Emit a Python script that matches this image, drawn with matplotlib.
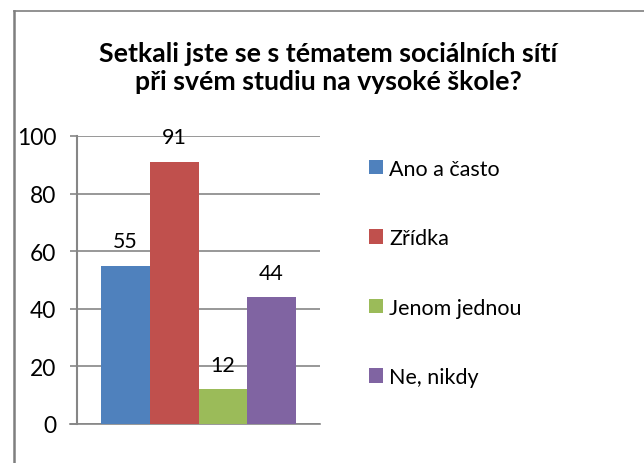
import matplotlib
matplotlib.use('Agg')
import matplotlib.pyplot as plt
from matplotlib.lines import Line2D
from matplotlib.patches import Patch
import numpy as np

plt.rcParams['font.family'] = ['Lato', 'DejaVu Sans']

# ---------------- data ---------------- #
title = 'Setkali jste se s tématem sociálních sítí\npři svém studiu na vysoké škole?'
labels = ['Ano a často', 'Zřídka', 'Jenom jednou', 'Ne, nikdy']
values = [55, 91, 12, 44]
colors = ['#4F81BD', '#C0504D', '#9BBB59', '#8064A2']
yticks = [0, 20, 40, 60, 80, 100]

# ---------------- figure ---------------- #
W, H = 644, 464
fig = plt.figure(figsize=(W / 100, H / 100), dpi=100)
ax = fig.add_axes([77 / W, 1 - 425 / H, 243 / W, 288 / H])

bw = 0.2
offsets = (np.arange(len(values)) - (len(values) - 1) / 2) * bw
bars = ax.bar(offsets, values, width=bw, color=colors, zorder=3)
for b, v in zip(bars, values):
    ax.annotate(str(v), (b.get_x() + b.get_width() / 2, v),
                xytext=(0, 10.5), textcoords='offset points',
                ha='center', va='bottom', fontsize=15.4, color='black')

ax.set_xlim(-0.5, 0.5)
ax.set_ylim(0, 100)
ax.set_yticks(yticks)
ax.set_xticks([])
ax.grid(axis='y', color='#868686', linewidth=1.2, zorder=0)
ax.tick_params(axis='y', length=5, width=1.2, color='#868686', pad=10, labelsize=16.4)
for s in ['top', 'right']:
    ax.spines[s].set_visible(False)
ax.spines['left'].set_color('#868686')
ax.spines['left'].set_linewidth(1.5)
ax.spines['bottom'].set_color('#868686')
ax.spines['bottom'].set_linewidth(1.2)

# extend baseline to the left like the tick marks
ax.plot([-0.5 - 7 / 243, -0.5], [0, 0], color='#868686', lw=1.2, clip_on=False)

fig.text(0.51, 1 - 68 / H, title, ha='center', va='center', fontsize=19.2,
         fontweight='bold', linespacing=1.25)

handles = [Patch(facecolor=c, edgecolor='none') for c in colors]
fig.legend(handles, labels, loc='upper left', bbox_to_anchor=(360 / W, 1 - 151 / H),
           frameon=False, fontsize=15.5, handlelength=0.65, handleheight=0.65,
           handletextpad=0.3, labelspacing=2.3, borderaxespad=0)

# outer chart border (partially cropped)
fig.add_artist(Line2D([14 / W, 14 / W], [0, 1 - 12 / H], color='#7F7F7F', lw=1.8))
fig.add_artist(Line2D([14 / W, 1], [1 - 12 / H, 1 - 12 / H], color='#7F7F7F', lw=1.2))

fig.savefig('out.png', dpi=100)
